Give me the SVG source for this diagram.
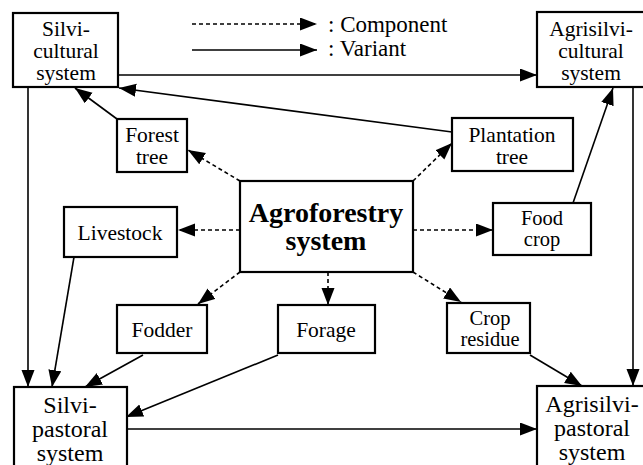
<svg xmlns="http://www.w3.org/2000/svg" width="643" height="465" viewBox="0 0 643 465" font-family="Liberation Serif, Times New Roman, DejaVu Serif, serif">
<style>
.box{fill:#fff;stroke:#000;stroke-width:2.2}
text{font-family:'Liberation Serif','Times New Roman','DejaVu Serif',serif;fill:#000}
.t{font-size:21.5px;text-anchor:middle}
.ts{font-size:20.5px;text-anchor:middle}
.tb{font-size:24px;text-anchor:middle}
.big{font-size:28px;font-weight:bold;text-anchor:middle}
.leg{font-size:23px}
.s{stroke:#000;stroke-width:1.6;fill:none;marker-end:url(#ah)}
.d{stroke:#000;stroke-width:1.6;fill:none;stroke-dasharray:4 3;marker-end:url(#ah)}
</style>
<defs>
<marker id="ah" markerUnits="userSpaceOnUse" markerWidth="18" markerHeight="14" refX="17" refY="6.5" orient="auto">
<path d="M0,0 L17,6.5 L0,13 z" fill="#000"/>
</marker>
</defs>
<rect width="643" height="465" fill="#fff"/>
<g id="connectors">
<line class="s" x1="118" y1="75" x2="537" y2="75"/>
<line class="s" x1="117" y1="119" x2="75" y2="88"/>
<line class="s" x1="452" y1="132" x2="119" y2="88"/>
<line class="s" x1="573" y1="203" x2="613" y2="88"/>
<line class="s" x1="633" y1="87" x2="633" y2="386"/>
<line class="s" x1="28" y1="87" x2="28" y2="387"/>
<line class="s" x1="74" y1="257" x2="52" y2="387"/>
<line class="s" x1="143" y1="355" x2="85" y2="387"/>
<line class="s" x1="278" y1="355" x2="126" y2="417"/>
<line class="s" x1="127" y1="429" x2="537" y2="429"/>
<line class="s" x1="530" y1="355" x2="582" y2="386"/>
<line class="d" x1="240" y1="181" x2="188" y2="150"/>
<line class="d" x1="413" y1="181" x2="452" y2="143"/>
<line class="d" x1="240" y1="230" x2="178" y2="230"/>
<line class="d" x1="413" y1="230" x2="493" y2="230"/>
<line class="d" x1="240" y1="272" x2="198" y2="304"/>
<line class="d" x1="328" y1="272" x2="328" y2="305"/>
<line class="d" x1="413" y1="272" x2="461" y2="302"/>
</g>
<g id="legend">
<line class="d" x1="192" y1="24" x2="317" y2="24"/>
<line class="s" x1="192" y1="50" x2="317" y2="50"/>
<text class="leg" x="328" y="32">:  Component</text>
<text class="leg" x="328" y="56">:  Variant</text>
</g>
<g id="silvicultural">
<rect class="box" x="13" y="13" width="105" height="74"/>
<text class="t" x="66" y="36">Silvi-</text>
<text class="t" x="66" y="58">cultural</text>
<text class="t" x="66" y="80">system</text>
</g>
<g id="agrisilvicultural">
<rect class="box" x="537" y="12" width="110" height="75"/>
<text class="t" x="591" y="36">Agrisilvi-</text>
<text class="t" x="591" y="58">cultural</text>
<text class="t" x="591" y="80">system</text>
</g>
<g id="forest-tree">
<rect class="box" x="117" y="119" width="70" height="53"/>
<text class="t" x="152" y="142">Forest</text>
<text class="t" x="152" y="164">tree</text>
</g>
<g id="plantation-tree">
<rect class="box" x="452" y="118" width="121" height="53"/>
<text class="t" x="512" y="142">Plantation</text>
<text class="t" x="512" y="164">tree</text>
</g>
<g id="agroforestry">
<rect class="box" x="240" y="181" width="173" height="91"/>
<text class="big" x="326" y="222">Agroforestry</text>
<text class="big" x="326" y="250">system</text>
</g>
<g id="livestock">
<rect class="box" x="64" y="207" width="113" height="50"/>
<text class="t" x="120" y="240">Livestock</text>
</g>
<g id="food-crop">
<rect class="box" x="493" y="203" width="98" height="52"/>
<text class="ts" x="542" y="225">Food</text>
<text class="ts" x="542" y="246">crop</text>
</g>
<g id="fodder">
<rect class="box" x="117" y="305" width="90" height="48"/>
<text class="t" x="162" y="337">Fodder</text>
</g>
<g id="forage">
<rect class="box" x="278" y="305" width="97" height="48"/>
<text class="t" x="326" y="337">Forage</text>
</g>
<g id="crop-residue">
<rect class="box" x="447" y="303" width="83" height="50"/>
<text class="ts" x="490" y="325">Crop</text>
<text class="ts" x="490" y="346">residue</text>
</g>
<g id="silvipastoral">
<rect class="box" x="14" y="387" width="113" height="90"/>
<text class="tb" x="70" y="413">Silvi-</text>
<text class="tb" x="70" y="437">pastoral</text>
<text class="tb" x="70" y="461">system</text>
</g>
<g id="agrisilvipastoral">
<rect class="box" x="537" y="386" width="110" height="90"/>
<text class="tb" x="592" y="412">Agrisilvi-</text>
<text class="tb" x="592" y="436">pastoral</text>
<text class="tb" x="592" y="460">system</text>
</g>
</svg>
